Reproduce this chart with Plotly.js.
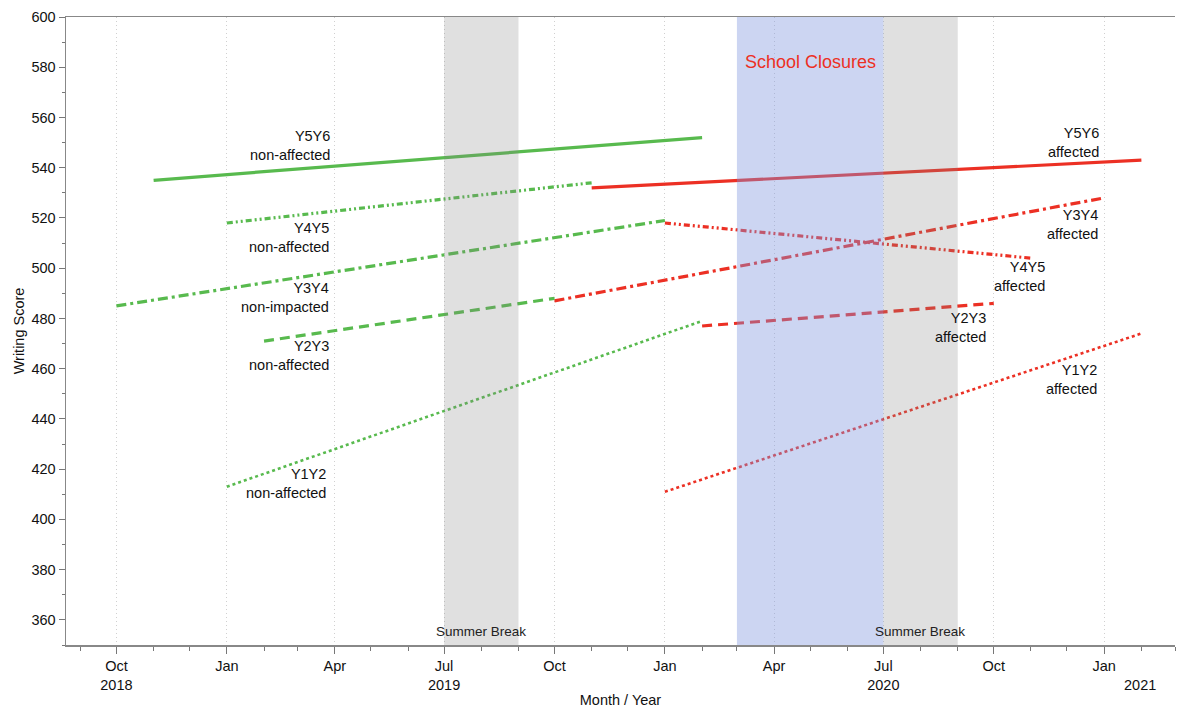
<!DOCTYPE html>
<html>
<head>
<meta charset="utf-8">
<script src="https://cdn.plot.ly/plotly-3.0.1.min.js"></script>
<style>html,body{margin:0;padding:0;background:#fff;}#chart{width:1179px;height:708px;}</style>
</head>
<body>
<div id="chart"></div>
<script>
// ---- data ----
const cohorts = ["Y5Y6", "Y4Y5", "Y3Y4", "Y2Y3", "Y1Y2"];

const naStart = ["2018-11-01", "2019-01-01", "2018-10-01", "2019-02-01", "2019-01-01"];
const naEnd   = ["2020-02-01", "2019-11-01", "2020-01-01", "2019-10-01", "2020-02-01"];
const naStartScore = [535, 518, 485, 471, 413];
const naEndScore   = [552, 534, 519, 488, 479];
const naLabels = ["Y5Y6<br>non-affected", "Y4Y5<br>non-affected", "Y3Y4<br>non-impacted", "Y2Y3<br>non-affected", "Y1Y2<br>non-affected"];

const afStart = ["2019-11-01", "2020-01-01", "2019-10-01", "2020-02-01", "2020-01-01"];
const afEnd   = ["2021-02-01", "2020-11-01", "2021-01-01", "2020-10-01", "2021-02-01"];
const afStartScore = [532, 518, 487, 477, 411];
const afEndScore   = [543, 504, 528, 486, 474];
const afLabels = ["Y5Y6<br>affected", "Y4Y5<br>affected", "Y3Y4<br>affected", "Y2Y3<br>affected", "Y1Y2<br>affected"];

const summerBreaks = [["2019-07-01", "2019-09-01"], ["2020-07-01", "2020-09-01"]];
const closure = ["2020-03-01", "2020-07-01"];

const xTickVals = ["2018-10-01","2019-01-01","2019-04-01","2019-07-01","2019-10-01","2020-01-01","2020-04-01","2020-07-01","2020-10-01","2021-01-01"];
const xTickText = ["Oct<br>2018","Jan","Apr","Jul<br>2019","Oct","Jan","Apr","Jul<br>2020","Oct","Jan"];

// ---- styles ----
const FF = "Liberation Sans, Arial, sans-serif";
const green = "rgb(88,186,78)";
const red = "rgb(236,48,36)";
const dashes = ["solid", "6px,3px,2px,3px,2px,3px", "10px,4px,3px,4px", "10px,6px", "dot"];
const widths = [3.2, 3.2, 3.2, 3.2, 2.6];

const traces = [];
cohorts.forEach((c, i) => {
  traces.push({
    type: "scatter", mode: "lines", name: c + " non-affected",
    x: [naStart[i], naEnd[i]], y: [naStartScore[i], naEndScore[i]],
    line: {color: green, width: widths[i], dash: dashes[i]}, hoverinfo: "skip"
  });
  traces.push({
    type: "scatter", mode: "lines", name: c + " affected",
    x: [afStart[i], afEnd[i]], y: [afStartScore[i], afEndScore[i]],
    line: {color: red, width: widths[i], dash: dashes[i]}, hoverinfo: "skip"
  });
});

const shapes = [];
summerBreaks.forEach(s => shapes.push({
  type: "rect", xref: "x", yref: "paper", x0: s[0], x1: s[1], y0: 0, y1: 1,
  fillcolor: "rgb(131,131,131)", opacity: 0.25, line: {width: 0}, layer: "above"
}));
shapes.push({
  type: "rect", xref: "x", yref: "paper", x0: closure[0], x1: closure[1], y0: 0, y1: 1,
  fillcolor: "rgb(127,150,222)", opacity: 0.4, line: {width: 0}, layer: "above"
});

const lblFont = {family: FF, size: 14.5, color: "#111"};
const naLabelPos = [["2019-03-27", 548.7], ["2019-03-26", 512.4], ["2019-03-26", 488.2], ["2019-03-26", 465.1], ["2019-03-24", 414.1]];
const afLabelPos = [["2020-12-27", 549.9], ["2020-11-12", 496.5], ["2020-12-26", 517.2], ["2020-09-24", 476.2], ["2020-12-25", 455.5]];

const annotations = [];
naLabels.forEach((t, i) => annotations.push({
  x: naLabelPos[i][0], y: naLabelPos[i][1], xref: "x", yref: "y", text: t, xshift: 3,
  showarrow: false, xanchor: "right", yanchor: "middle", align: "right", font: lblFont
}));
afLabels.forEach((t, i) => annotations.push({
  x: afLabelPos[i][0], y: afLabelPos[i][1], xref: "x", yref: "y", text: t, xshift: 3,
  showarrow: false, xanchor: "right", yanchor: "middle", align: "right", font: lblFont
}));
summerBreaks.forEach(s => annotations.push({
  x: s[0], xshift: 37, y: 0, yref: "paper", xref: "x", yanchor: "bottom", yshift: 4,
  text: "Summer Break", showarrow: false, font: {family: FF, size: 13.5, color: "#222"}
}));
annotations.push({
  x: "2020-05-01", y: 582, xref: "x", yref: "y", text: "School Closures", showarrow: false,
  font: {family: FF, size: 18, color: "rgb(236,48,36)"}
});
annotations.push({
  x: "2021-01-31", y: 0, xref: "x", yref: "paper", yanchor: "top", yshift: -30, text: "2021",
  showarrow: false, font: {family: FF, size: 14.5, color: "#111"}
});

const layout = {
  width: 1179, height: 708,
  margin: {l: 66, r: 4, t: 17, b: 63},
  paper_bgcolor: "#fff", plot_bgcolor: "#fff",
  showlegend: false,
  font: {family: FF, size: 14.5, color: "#111"},
  xaxis: {
    type: "date", range: ["2018-08-20", "2021-03-01"],
    tickmode: "array", tickvals: xTickVals, ticktext: xTickText,
    ticks: "outside", ticklen: 7, tickcolor: "#777", tickwidth: 1,
    showline: true, linecolor: "#888", linewidth: 1.5, mirror: true,
    showgrid: true, gridcolor: "#d0d0d0", griddash: "1px,3px", gridwidth: 1,
    zeroline: false,
    minor: {tickmode: "linear", tick0: "2018-01-01", dtick: "M1", ticks: "outside", ticklen: 4, tickcolor: "#777", showgrid: false},
    title: {text: "Month / Year", font: {size: 14.5, color: "#111"}, standoff: 6},
    tickfont: {size: 14.5, color: "#111"}
  },
  yaxis: {
    range: [350, 600], tickmode: "linear", tick0: 360, dtick: 20,
    ticks: "outside", ticklen: 6, tickcolor: "#777",
    showline: true, linecolor: "#888", linewidth: 1.5,
    showgrid: false, zeroline: false,
    minor: {tickmode: "linear", tick0: 350, dtick: 10, ticks: "outside", ticklen: 3, tickcolor: "#777", showgrid: false},
    title: {text: "Writing Score", font: {size: 14.5, color: "#111"}, standoff: 3},
    tickfont: {size: 14.5, color: "#111"}
  },
  shapes: shapes,
  annotations: annotations
};

Plotly.newPlot("chart", traces, layout, {staticPlot: true, displayModeBar: false});
</script>
</body>
</html>
